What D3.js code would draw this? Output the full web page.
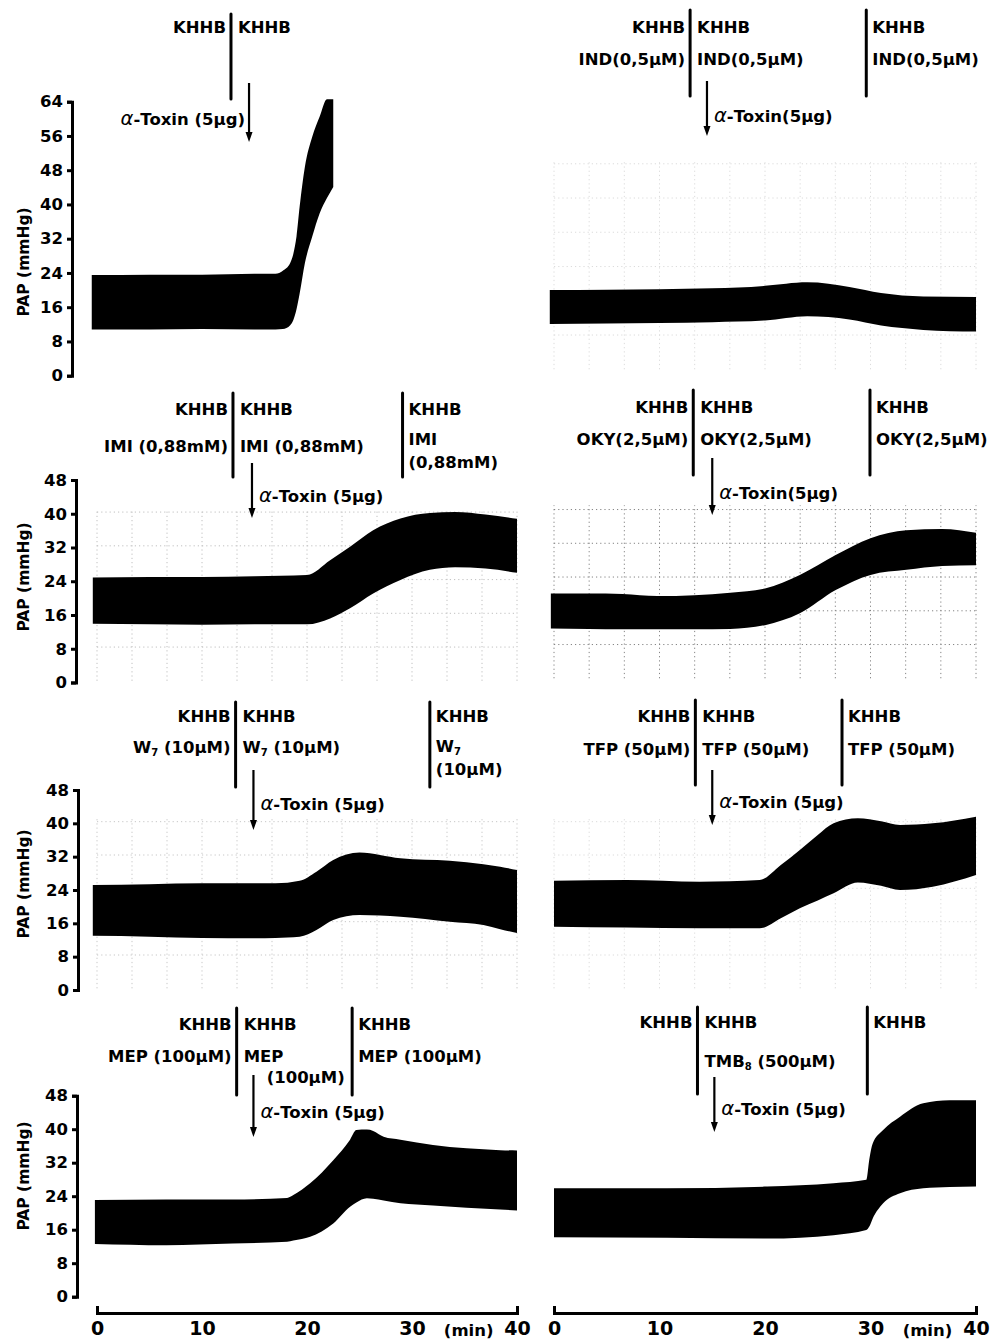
<!DOCTYPE html>
<html>
<head>
<meta charset="utf-8">
<script src="https://cdn.jsdelivr.net/npm/d3@7"></script>
<style>
body { margin: 0; background: #fff; }
text { font-family: "DejaVu Sans", sans-serif; font-weight: bold; fill: #000; }
</style>
</head>
<body>
<svg id="chart" width="991" height="1341"></svg>
<script>
// ---- data (minutes / mmHg) ----
const xTicks = [0, 10, 20, 30, 40];
const yTicks64 = [0, 8, 16, 24, 32, 40, 48, 56, 64];
const yTicks48 = [0, 8, 16, 24, 32, 40, 48];

// control: KHHB only
const ctrlTime  = [-0.5, 5, 10, 15, 17, 17.7, 18.4, 18.7, 19, 19.3, 19.8, 20.5, 21.2, 21.9, 22.5];
const ctrlUpper = [23.5, 23.6, 23.6, 23.8, 23.8, 24.5, 26.3, 28.5, 32.5, 39.5, 48.8, 55.8, 60.5, 64.6, 64.6];
const ctrlLower = [10.8, 10.8, 10.9, 10.8, 10.8, 10.9, 11.8, 13, 15.5, 19.2, 26.3, 32.5, 37.9, 41.5, 44.1];
const ctrlSwitch = [12.76];
const ctrlToxin = 14.48;

// indomethacin
const indTime  = [-0.4, 5, 10, 15, 20, 22, 24, 26, 28, 31, 35, 40];
const indUpper = [20, 20.1, 20.2, 20.4, 21, 21.5, 21.8, 21.5, 20.7, 19.3, 18.5, 18.4];
const indLower = [12.1, 12.2, 12.3, 12.5, 12.9, 13.5, 13.9, 13.7, 13.1, 11.7, 10.7, 10.3];
const indSwitch = [12.9, 29.6];
const indToxin = 14.5;

// imipramine
const imiTime  = [-0.4, 5, 10, 15, 20, 22.2, 24.1, 26.3, 28.9, 31.7, 34.1, 37, 40];
const imiUpper = [24.9, 25, 25, 25.2, 25.5, 29, 32.2, 36.1, 38.9, 40.2, 40.4, 39.8, 38.8];
const imiLower = [13.9, 13.8, 13.7, 13.8, 13.8, 15.2, 17.6, 21.1, 24.3, 26.7, 27.3, 27, 26];
const imiSwitch = [12.95, 29.1];
const imiToxin = 14.76;

// OKY 046
const okyTime  = [-0.3, 3.3, 6.5, 9.8, 13.3, 16.7, 20, 23.3, 26.7, 30, 33.4, 36.8, 40];
const okyUpper = [21.1, 21.1, 21.0, 20.5, 20.7, 21.3, 22.3, 25.5, 30.2, 34.2, 36.1, 36.4, 35.5];
const okyLower = [12.8, 12.7, 12.6, 12.6, 12.6, 12.7, 13.6, 16.4, 21.9, 25.5, 26.7, 27.6, 27.8];
const okySwitch = [13.2, 29.95];
const okyToxin = 15;

// W7
const w7Time  = [-0.4, 5, 10, 15, 17, 19.3, 20.9, 22.5, 25, 28.9, 33.6, 36.8, 38.4, 40];
const w7Upper = [25.2, 25.4, 25.6, 25.6, 25.6, 26.2, 28.4, 31.2, 33, 31.6, 31, 30.2, 29.6, 28.8];
const w7Lower = [13, 12.8, 12.5, 12.4, 12.5, 12.8, 14.4, 16.8, 18, 17.6, 16.4, 15.6, 14.6, 13.7];
const w7Switch = [13.2, 31.7];
const w7Toxin = 14.9;

// trifluoperazine
const tfpTime  = [0, 6.9, 13.8, 19.5, 21.5, 23.3, 25, 26.5, 28.8, 31, 32.8, 35.9, 40];
const tfpUpper = [26.2, 26.4, 26, 26.4, 30, 33.6, 37.2, 40, 41.2, 40.5, 39.6, 40, 41.6];
const tfpLower = [15.2, 15, 14.8, 14.8, 17.2, 19.6, 21.5, 23.2, 25.8, 25, 24, 24.8, 27.6];
const tfpSwitch = [13.4, 27.3];
const tfpToxin = 15;

// mepacrine
const mepTime  = [-0.2, 6.6, 12.9, 18.1, 18.7, 20.3, 22.5, 24.1, 24.7, 25.7, 26.3, 27.3, 28.9, 32, 38.4, 40];
const mepUpper = [23.1, 23.2, 23.2, 23.6, 24.3, 27.1, 32.6, 37.5, 39.8, 39.9, 39.6, 38.2, 37.5, 36.2, 35, 34.9];
const mepLower = [12.6, 12.3, 12.7, 13.1, 13.4, 14.3, 17.5, 21.5, 22.5, 23.5, 23.4, 23, 22.3, 21.8, 20.8, 20.6];
const mepSwitch = [13.3, 24.3];
const mepToxin = 14.9;

// TMB8
const tmbTime  = [0, 10.7, 20.2, 26.5, 29.6, 29.9, 30.2, 31.2, 32.8, 35, 37.5, 40];
const tmbUpper = [25.9, 25.9, 26.3, 27.1, 27.9, 33, 36.5, 39.8, 43, 46.2, 46.9, 46.9];
const tmbLower = [14.2, 14.1, 13.9, 14.7, 15.9, 16.8, 18.6, 22.3, 24.7, 25.9, 26.2, 26.3];
const tmbSwitch = [13.6, 29.7];
const tmbToxin = 15.2;

// ---- layout ----
const cols = [{x0: 97, x1: 517}, {x0: 554, x1: 976}];
const rows = [
    {max: 64, ticks: yTicks64, y0: 375.7, y1: 101.7, axisX: 72, labelY: 262},
    {max: 48, ticks: yTicks48, y0: 682.5, y1: 480, axisX: 76, labelY: 577},
    {max: 48, ticks: yTicks48, y0: 990, y1: 790, axisX: 78, labelY: 884},
    {max: 48, ticks: yTicks48, y0: 1296.7, y1: 1095.7, axisX: 77, labelY: 1176}
];

const panels = [
    {col: 0, row: 0, time: ctrlTime, upper: ctrlUpper, lower: ctrlLower, sw: ctrlSwitch, tox: ctrlToxin,
     before: ["KHHB"], after: ["KHHB"], third: null, toxText: "α-Toxin (5μg)", toxLeft: true,
     lay: {top: 14, bot: 99, base: [33], arrTop: 83, arrBot: 142, toxY: 125}, grid: 0},
    {col: 1, row: 0, time: indTime, upper: indUpper, lower: indLower, sw: indSwitch, tox: indToxin,
     before: ["KHHB", "IND(0,5μM)"], after: ["KHHB", "IND(0,5μM)"], third: ["KHHB", "IND(0,5μM)"], toxText: "α-Toxin(5μg)",
     lay: {top: 10, bot: 96, base: [33, 65], base3: [33, 65], arrTop: 81, arrBot: 136, toxY: 122}, grid: 0.25, gridMax: 50, gridOff: 1.5},
    {col: 0, row: 1, time: imiTime, upper: imiUpper, lower: imiLower, sw: imiSwitch, tox: imiToxin,
     before: ["KHHB", "IMI (0,88mM)"], after: ["KHHB", "IMI (0,88mM)"], third: ["KHHB", "IMI", "(0,88mM)"], toxText: "α-Toxin (5μg)",
     lay: {top: 393, bot: 477, base: [415, 452], base3: [415, 445, 468], arrTop: 463, arrBot: 518, toxY: 502}, grid: 0.45, gridMax: 41, gridOff: 0.4},
    {col: 1, row: 1, time: okyTime, upper: okyUpper, lower: okyLower, sw: okySwitch, tox: okyToxin,
     before: ["KHHB", "OKY(2,5μM)"], after: ["KHHB", "OKY(2,5μM)"], third: ["KHHB", "OKY(2,5μM)"], toxText: "α-Toxin(5μg)",
     lay: {top: 390, bot: 475, base: [413, 445], base3: [413, 445], arrTop: 458, arrBot: 515, toxY: 499}, grid: 0.9, gridMax: 42, gridOff: 1},
    {col: 0, row: 2, time: w7Time, upper: w7Upper, lower: w7Lower, sw: w7Switch, tox: w7Toxin,
     before: ["KHHB", "W_7 (10μM)"], after: ["KHHB", "W_7 (10μM)"], third: ["KHHB", "W_7", "(10μM)"], toxText: "α-Toxin (5μg)",
     lay: {top: 702, bot: 787, base: [722, 753], base3: [722, 752, 775], arrTop: 770, arrBot: 830, toxY: 810}, grid: 0.4, gridMax: 41, gridOff: 0.4},
    {col: 1, row: 2, time: tfpTime, upper: tfpUpper, lower: tfpLower, sw: tfpSwitch, tox: tfpToxin,
     before: ["KHHB", "TFP (50μM)"], after: ["KHHB", "TFP (50μM)"], third: ["KHHB", "TFP (50μM)"], toxText: "α-Toxin (5μg)",
     lay: {top: 700, bot: 785, base: [722, 755], base3: [722, 755], arrTop: 770, arrBot: 825, toxY: 808}, grid: 0.25, gridMax: 41, gridOff: 0.4},
    {col: 0, row: 3, time: mepTime, upper: mepUpper, lower: mepLower, sw: mepSwitch, tox: mepToxin,
     before: ["KHHB", "MEP (100μM)"], after: ["KHHB", "MEP", "(100μM)"], afterDx: [0, 0, 23], third: ["KHHB", "MEP (100μM)"], toxText: "α-Toxin (5μg)",
     lay: {top: 1008, bot: 1095, base: [1030, 1062, 1083], base3: [1030, 1062], arrTop: 1075, arrBot: 1137, toxY: 1118}, grid: 0},
    {col: 1, row: 3, time: tmbTime, upper: tmbUpper, lower: tmbLower, sw: tmbSwitch, tox: tmbToxin,
     before: ["KHHB"], after: ["KHHB", "TMB_8 (500μM)"], third: ["KHHB"], toxText: "α-Toxin (5μg)",
     lay: {top: 1007, bot: 1094, base: [1028, 1067], base3: [1028], arrTop: 1077, arrBot: 1132, toxY: 1115}, grid: 0}
];

const svg = d3.select("#chart");

// text with subscripts (_7) and a lighter italic alpha
function richText(g, str, x, y, anchor, size) {
    const t = g.append("text")
        .attr("x", x).attr("y", y)
        .attr("text-anchor", anchor)
        .style("font-size", size + "px");
    let shift = 0;
    str.split(/(_\d|α)/).filter(s => s).forEach(s => {
        const sp = t.append("tspan");
        if (s[0] === "_") {
            sp.text(s.slice(1)).attr("dy", 3 - shift).style("font-size", "10px");
            shift = 3;
        } else if (s === "α") {
            sp.text(s).attr("dy", -shift).style("font-style", "italic").style("font-weight", "normal").style("font-size", (size + 3) + "px");
            shift = 0;
        } else {
            sp.text(s).attr("dy", -shift);
            shift = 0;
        }
    });
    return t;
}

function scalesFor(p) {
    const c = cols[p.col], r = rows[p.row];
    const x = d3.scaleLinear().domain([0, 40]).range([c.x0, c.x1]);
    const y = d3.scaleLinear().domain([0, r.max]).range([r.y0, r.y1]);
    return {x, y};
}

panels.forEach(p => {
    const {x, y} = scalesFor(p);
    const r = rows[p.row];
    const g = svg.append("g");

    // chart paper grid (faint dots)
    if (p.grid > 0) {
        const gg = g.append("g")
            .attr("stroke", "#777")
            .attr("stroke-width", 1)
            .attr("stroke-dasharray", "1.2,3")
            .attr("opacity", p.grid);
        const hv = d3.range(8 + p.gridOff, p.gridMax + 0.1, 8);
        gg.selectAll("line.h").data(hv).enter().append("line")
            .attr("x1", x(0)).attr("x2", x(40))
            .attr("y1", d => y(d)).attr("y2", d => y(d));
        const vt = d3.range(0, 40.1, 10 / 3);
        gg.selectAll("line.v").data(vt).enter().append("line")
            .attr("x1", d => x(d)).attr("x2", d => x(d))
            .attr("y1", y(p.gridOff)).attr("y2", y(p.gridMax));
    }

    // pressure band (systolic / diastolic envelope)
    const pts = p.time.map((t, i) => ({t: t, hi: p.upper[i], lo: p.lower[i]}));
    const area = d3.area()
        .x(d => x(d.t))
        .y0(d => y(d.lo))
        .y1(d => y(d.hi))
        .curve(d3.curveMonotoneX);
    g.append("path").datum(pts).attr("d", area).attr("fill", "#000");

    // y axis on the left column only
    if (p.col === 0) {
        const ax = g.append("g")
            .attr("transform", "translate(" + r.axisX + ",0)")
            .call(d3.axisLeft(y).tickValues(r.ticks).tickSize(5).tickPadding(4).tickFormat(d3.format("d")));
        ax.select(".domain").attr("stroke-width", 3);
        ax.selectAll(".tick line").attr("stroke-width", 3);
        ax.selectAll("text").style("font-size", "16.5px").style("font-family", "DejaVu Sans").style("font-weight", "bold");
        g.append("text")
            .attr("transform", "translate(29," + r.labelY + ") rotate(-90)")
            .attr("text-anchor", "middle")
            .style("font-size", "15.5px")
            .text("PAP (mmHg)");
    }

    // solution changes
    const L = p.lay;
    p.sw.forEach((s, i) => {
        const lx = x(s);
        g.append("line")
            .attr("x1", lx).attr("x2", lx)
            .attr("y1", L.top).attr("y2", L.bot)
            .attr("stroke", "#000").attr("stroke-width", 3).attr("stroke-linecap", "round");
        if (i === 0) {
            p.before.forEach((t, j) => richText(g, t, lx - 5, L.base[j], "end", 16.5));
            p.after.forEach((t, j) => richText(g, t, lx + 7 + (p.afterDx ? p.afterDx[j] : 0), L.base[j], "start", 16.5));
        } else if (p.third) {
            p.third.forEach((t, j) => richText(g, t, lx + 6, L.base3[j], "start", 16.5));
        }
    });

    // alpha-toxin arrow
    const axp = x(p.tox);
    g.append("line")
        .attr("x1", axp).attr("x2", axp)
        .attr("y1", L.arrTop).attr("y2", L.arrBot - 8)
        .attr("stroke", "#000").attr("stroke-width", 2.2);
    g.append("path")
        .attr("d", "M" + (axp - 3.5) + "," + (L.arrBot - 10) + "L" + (axp + 3.5) + "," + (L.arrBot - 10) + "L" + axp + "," + L.arrBot + "Z")
        .attr("fill", "#000");
    if (p.toxLeft) richText(g, p.toxText, axp - 4, L.toxY, "end", 16.5);
    else richText(g, p.toxText, axp + 7, L.toxY, "start", 16.5);
});

// time axes at the bottom of both columns
cols.forEach(c => {
    const x = d3.scaleLinear().domain([0, 40]).range([c.x0, c.x1]);
    const ax = svg.append("g")
        .attr("transform", "translate(0,1313)")
        .call(d3.axisBottom(x).tickValues(xTicks).tickSizeInner(0).tickSizeOuter(-7).tickPadding(9).tickFormat(d3.format("d")));
    ax.select(".domain").attr("stroke-width", 3);
    ax.selectAll("text").style("font-size", "19px").style("font-family", "DejaVu Sans").style("font-weight", "bold");
    svg.append("text")
        .attr("x", x(35.4)).attr("y", 1336)
        .attr("text-anchor", "middle")
        .style("font-size", "16.5px")
        .text("(min)");
});
</script>
</body>
</html>
